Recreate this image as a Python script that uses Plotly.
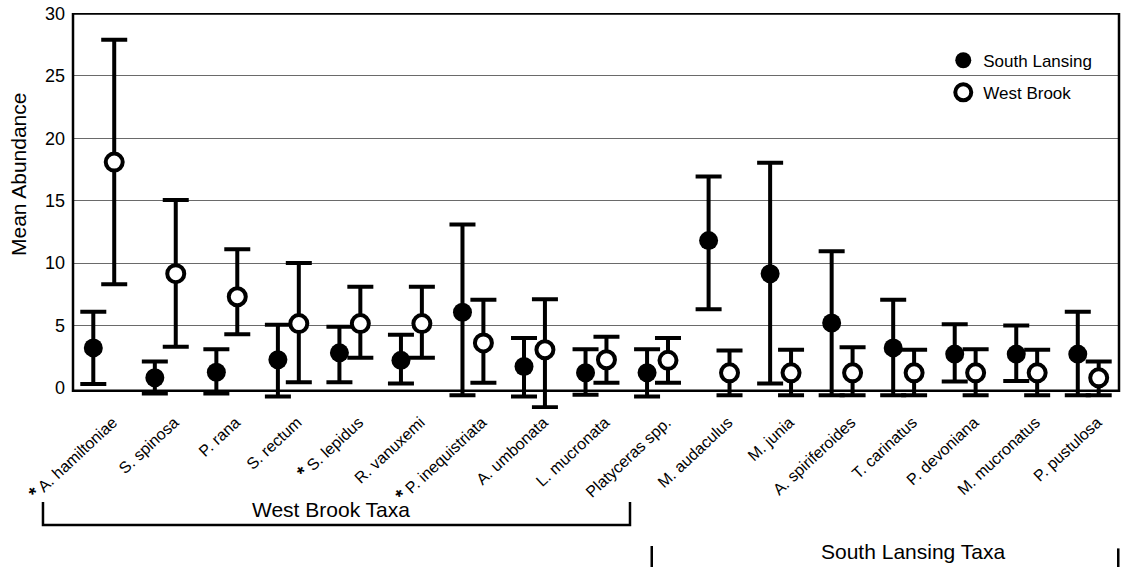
import plotly.graph_objects as go

# ---- data ----
STAR = "<span style='font-size:19px'><b>*</b></span> "
taxa = [STAR + "A. hamiltoniae", "S. spinosa", "P. rana", "S. rectum",
        STAR + "S. lepidus", "R. vanuxemi", STAR + "P. inequistriata",
        "A. umbonata", "L. mucronata", "Platyceras spp.", "M. audaculus",
        "M. junia", "A. spiriferoides", "T. carinatus", "P. devoniana",
        "M. mucronatus", "P. pustulosa"]

sl_mean  = [3.2, 0.8, 1.25, 2.25, 2.8, 2.2, 6.05, 1.7, 1.2, 1.2, 11.8, 9.15, 5.2, 3.2, 2.7, 2.7, 2.7]
sl_upper = [6.1, 2.1, 3.1, 5.05, 4.9, 4.25, 13.1, 4.0, 3.1, 3.1, 16.95, 18.05, 10.95, 7.05, 5.1, 5.0, 6.1]
sl_lower = [0.3, -0.45, -0.45, -0.7, 0.45, 0.35, -0.6, -0.7, -0.55, -0.7, 6.3, 0.35, -0.6, -0.6, 0.5, 0.55, -0.6]

wb_mean  = [18.1, 9.15, 7.3, 5.15, 5.15, 5.15, 3.6, 3.05, 2.25, 2.2, 1.2, 1.2, 1.2, 1.2, 1.2, 1.2, 0.8]
wb_upper = [27.9, 15.05, 11.1, 10.0, 8.1, 8.1, 7.05, 7.1, 4.1, 4.0, 3.0, 3.05, 3.25, 3.05, 3.1, 3.05, 2.1]
wb_lower = [8.3, 3.3, 4.3, 0.45, 2.4, 2.4, 0.4, -1.55, 0.4, 0.4, -0.6, -0.6, -0.6, -0.6, -0.6, -0.6, -0.6]

y_ticks = [0, 5, 10, 15, 20, 25, 30]

sl_plus = [u - m for u, m in zip(sl_upper, sl_mean)]
sl_minus = [m - l for m, l in zip(sl_mean, sl_lower)]
wb_plus = [u - m for u, m in zip(wb_upper, wb_mean)]
wb_minus = [m - l for m, l in zip(wb_mean, wb_lower)]

FONT = "Liberation Sans, Arial, Helvetica, sans-serif"

fig = go.Figure()
fig.add_trace(go.Scatter(
    x=taxa, y=sl_mean, mode="markers", name="South Lansing",
    offsetgroup="sl", legendgroup="sl", cliponaxis=False,
    marker=dict(symbol="circle", size=19, color="black", line=dict(width=0)),
    error_y=dict(type="data", symmetric=False, array=sl_plus, arrayminus=sl_minus,
                 color="black", thickness=4, width=13),
))
fig.add_trace(go.Scatter(
    x=taxa, y=wb_mean, mode="markers", name="West Brook",
    offsetgroup="wb", legendgroup="wb", cliponaxis=False,
    marker=dict(symbol="circle", size=17, color="white", line=dict(width=4, color="black")),
    error_y=dict(type="data", symmetric=False, array=wb_plus, arrayminus=wb_minus,
                 color="black", thickness=4, width=13),
))

# frame around the plotting area
fig.add_shape(type="rect", xref="paper", yref="y", x0=0, x1=1, y0=-0.24, y1=30,
              line=dict(color="black", width=2.5), layer="above")

# group brackets below the axis
br = dict(color="black", width=2.5)
fig.add_shape(type="path", xref="paper", yref="paper",
              path="M -0.0287,-0.2348 L -0.0287,-0.2929 L 0.5325,-0.2929 L 0.5325,-0.2348",
              line=br)
fig.add_shape(type="line", xref="paper", yref="paper", x0=0.5533, x1=0.5533, y0=-0.346, y1=-0.42, line=br)
fig.add_shape(type="line", xref="paper", yref="paper", x0=0.9993, x1=0.9993, y0=-0.352, y1=-0.42, line=br)

fig.add_annotation(text="West Brook Taxa", xref="paper", yref="paper", x=0.2471, y=-0.255,
                   xanchor="center", yanchor="middle", showarrow=False, font=dict(size=21))
fig.add_annotation(text="South Lansing Taxa", xref="paper", yref="paper", x=0.803, y=-0.361,
                   xanchor="center", yanchor="middle", showarrow=False, font=dict(size=21))
fig.add_annotation(text="Mean Abundance", xref="paper", yref="paper", x=-0.0526, y=0.5934,
                   xanchor="center", yanchor="middle", textangle=-90, showarrow=False,
                   font=dict(size=21))

fig.update_layout(
    width=1126, height=567,
    margin=dict(l=73, r=7, t=13, b=158),
    plot_bgcolor="white", paper_bgcolor="white",
    font=dict(family=FONT, color="black"),
    scattermode="group", scattergap=0.32,
    showlegend=True,
    legend=dict(x=0.832, y=0.925, xanchor="left", yanchor="top",
                bgcolor="rgba(0,0,0,0)", font=dict(size=17),
                traceorder="grouped", tracegroupgap=7),
)
fig.update_xaxes(type="category", tickangle=-43, tickfont=dict(size=16),
                 ticklabelshift=9,
                 showgrid=False, showline=False, zeroline=False, ticks="",
                 automargin=False)
fig.update_yaxes(range=[-1.7, 30.05], tickvals=y_ticks, tickfont=dict(size=18),
                 showgrid=True, gridcolor="#6a6a6a", gridwidth=1,
                 zeroline=True, zerolinecolor="rgba(0,0,0,0)", zerolinewidth=1,
                 showline=False, ticks="", ticklabelstandoff=7, automargin=False)

fig.write_html("out.html")
